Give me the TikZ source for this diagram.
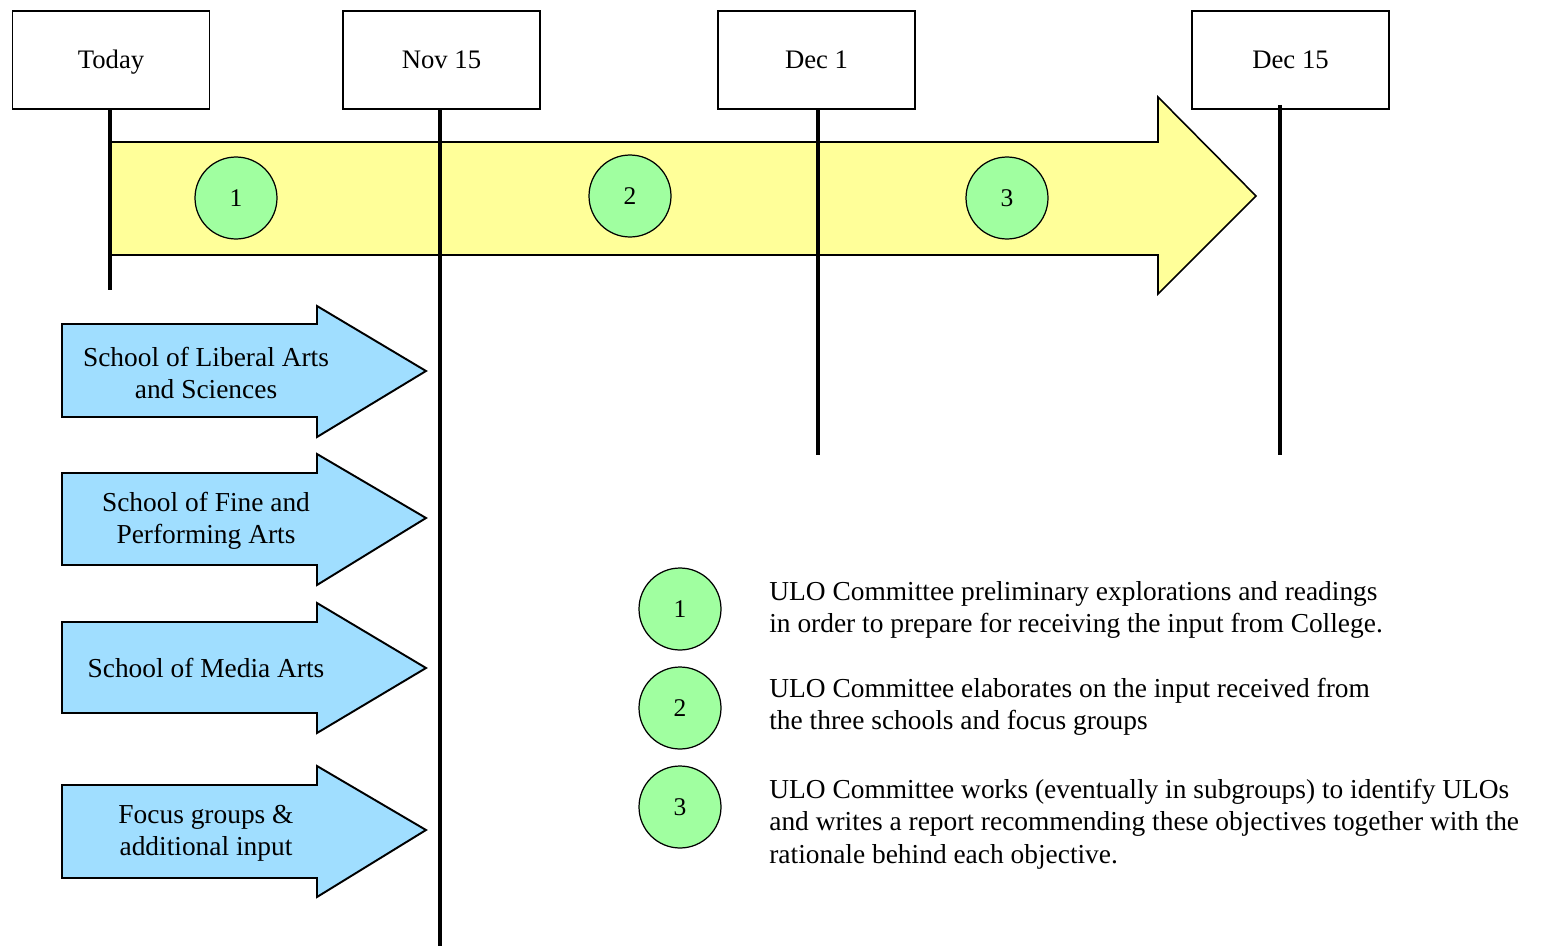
\documentclass[tikz,border=0pt]{standalone}
\usepackage{fontspec}
\setmainfont{Liberation Serif}
\definecolor{arrowyellow}{RGB}{255,255,153}
\definecolor{numgreen}{RGB}{160,255,160}
\definecolor{arrowblue}{RGB}{160,222,255}
\begin{document}
\begin{tikzpicture}[x=0.02cm,y=-0.02cm,
  datebox/.style={draw, line width=1.1pt, fill=white, minimum width=3.94cm, minimum height=1.96cm, inner sep=0pt, text height=1.12em, text depth=0.2em, font=\fontsize{15.2}{17}\selectfont},
  tline/.style={line width=2.2pt},
  yarrowshape/.style={draw, line width=0.9pt, fill=arrowyellow},
  barrowshape/.style={draw, line width=1.1pt, fill=arrowblue},
  num/.style={circle, draw, line width=0.7pt, fill=numgreen, minimum size=1.64cm, inner sep=0pt, font=\fontsize{14.5}{16}\selectfont},
  blabel/.style={align=center, inner sep=0pt, font=\fontsize{15.6}{18}\selectfont},
  legtext/.style={anchor=west, align=left, inner sep=0pt, font=\fontsize{15.6}{18.4}\selectfont}]
\useasboundingbox (0,0) rectangle (1551,946);
% date boxes
\node[datebox] (today) at (111,60) {Today};
\node[datebox] (nov15) at (441.5,60) {Nov 15};
\node[datebox] (dec1) at (816.5,60) {Dec 1};
\node[datebox] (dec15) at (1290.5,60) {Dec 15};
% big yellow arrow
\draw[yarrowshape] (110,142) -- (1158,142) -- (1158,97) -- (1256,196) -- (1158,294) -- (1158,255) -- (110,255) -- cycle;
% time lines
\coordinate (todayend) at (110,290);
\coordinate (nov15end) at (440,946);
\coordinate (dec1end) at (818,455);
\coordinate (dec15top) at (1280,105);
\coordinate (dec15end) at (1280,455);
\draw[tline] (today.south -| todayend) -- (todayend);
\draw[tline] (nov15.south -| nov15end) -- (nov15end);
\draw[tline] (dec1.south -| dec1end) -- (dec1end);
\draw[tline] (dec15top) -- (dec15end);
% phase circles
\node[num] (p1) at (236,198) {1};
\node[num] (p2) at (630,196) {2};
\node[num] (p3) at (1007,198) {3};
% blue input arrows
\draw[barrowshape] (62,324) -- (317,324) -- (317,306) -- (426,371) -- (317,437) -- (317,417) -- (62,417) -- cycle;
\node[blabel] (s1) at (206,373) {School of Liberal Arts\\and Sciences};
\draw[barrowshape] (62,473) -- (317,473) -- (317,454) -- (426,518) -- (317,585) -- (317,565) -- (62,565) -- cycle;
\node[blabel] (s2) at (206,521) {School of Fine and\\Performing Arts};
\draw[barrowshape] (62,622) -- (317,622) -- (317,603) -- (426,668) -- (317,733) -- (317,713) -- (62,713) -- cycle;
\node[blabel] (s3) at (206,668) {School of Media Arts};
\draw[barrowshape] (62,785) -- (317,785) -- (317,766) -- (426,830) -- (317,897) -- (317,878) -- (62,878) -- cycle;
\node[blabel] (s4) at (206,833) {Focus groups \&\\additional input};
% legend
\node[num] (l1) at (680,609) {1};
\node[num] (l2) at (680,708) {2};
\node[num] (l3) at (680,807) {3};
\node[legtext] (t1) at (769,610) {ULO Committee preliminary explorations and readings\\in order to prepare for receiving the input from College.};
\node[legtext] (t2) at (769,707) {ULO Committee elaborates on the input received from\\the three schools and focus groups};
\node[legtext] (t3) at (769,824) {ULO Committee works (eventually in subgroups) to identify ULOs\\and writes a report recommending these objectives together with the\\rationale behind each objective.};
\end{tikzpicture}
\end{document}
